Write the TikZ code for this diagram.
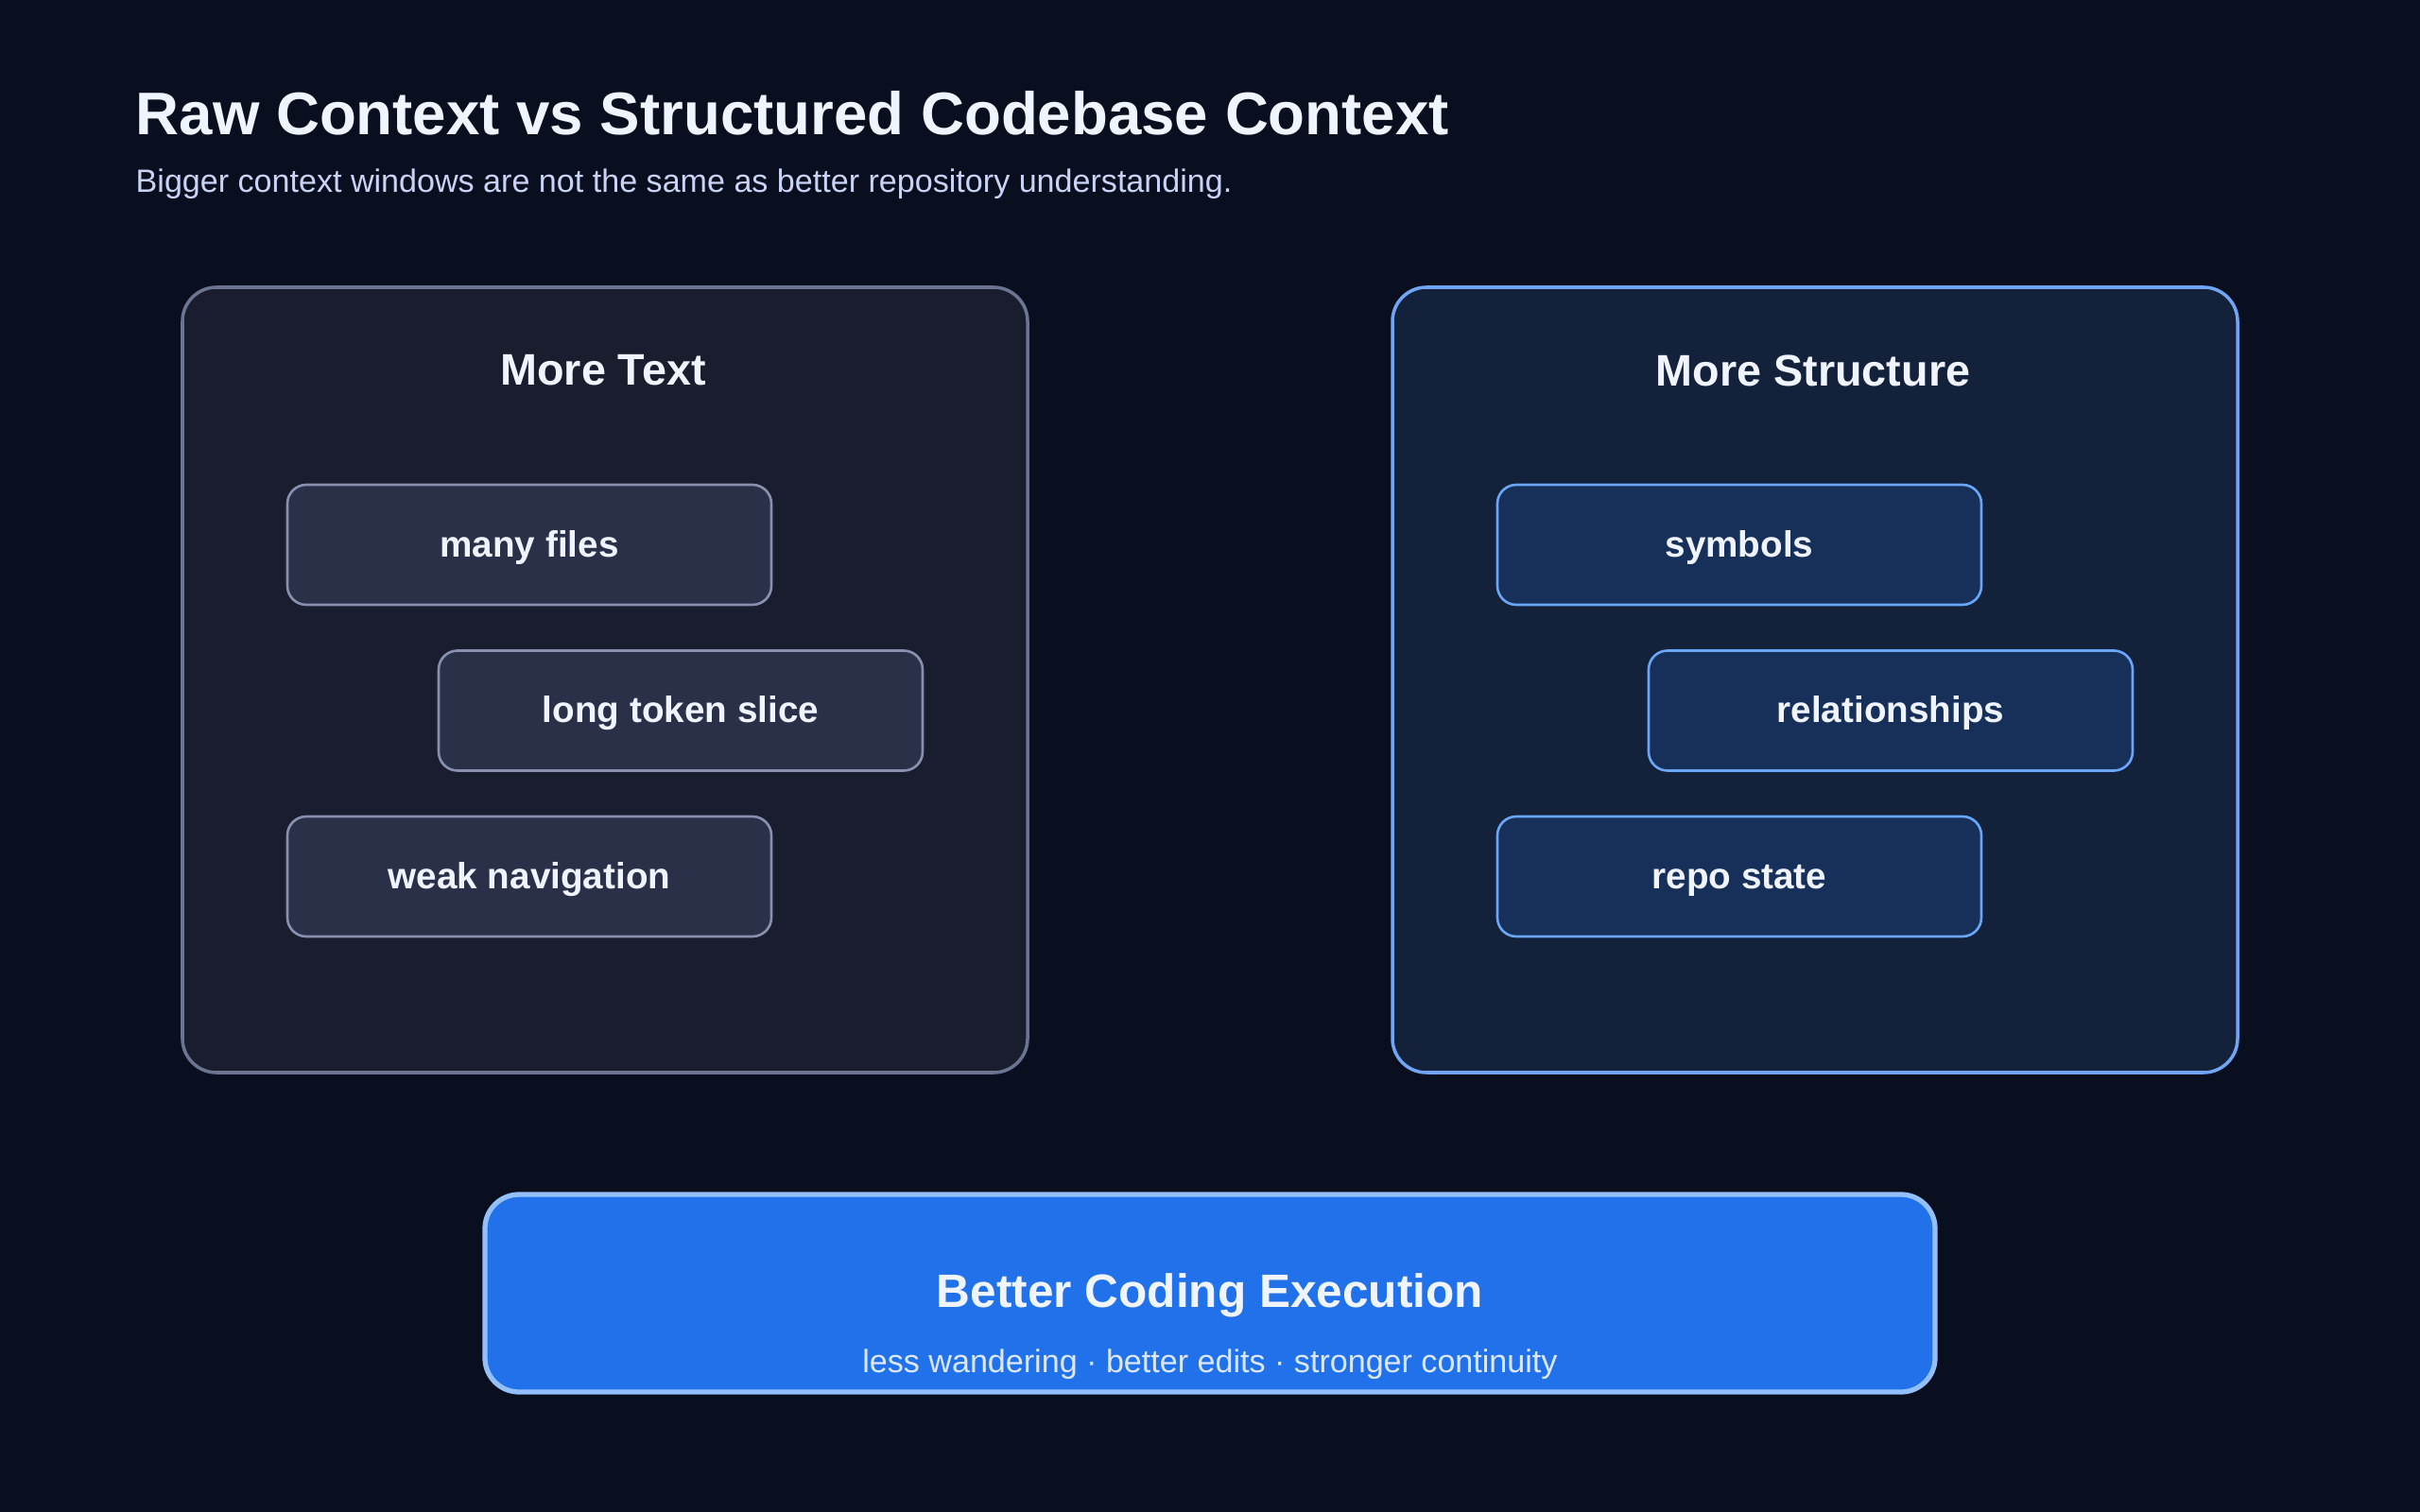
\documentclass[tikz,border=0pt]{standalone}
\usepackage{fontspec}
\setmainfont{Liberation Sans}
\usepackage{tikz}
\usetikzlibrary{positioning, calc}
\definecolor{night}{HTML}{0A0F1F}
\definecolor{ink}{HTML}{F0F4FF}
\definecolor{haze}{HTML}{C9D3F5}
\definecolor{slatefill}{HTML}{1A1D2E}
\definecolor{slateline}{HTML}{6B7491}
\definecolor{chipfill}{HTML}{2B3049}
\definecolor{chipline}{HTML}{8790AE}
\definecolor{deepfill}{HTML}{13223A}
\definecolor{skyline}{HTML}{70A5F5}
\definecolor{bluechip}{HTML}{16305A}
\definecolor{bluechipline}{HTML}{6AA6F8}
\definecolor{action}{HTML}{2172EA}
\definecolor{actionline}{HTML}{93C0FB}
\definecolor{actiontext}{HTML}{DCE7FF}
\tikzset{
  panel/.style={draw,rounded corners=3.6mm,line width=1pt,
    minimum width=8.94cm,minimum height=8.31cm,inner sep=0pt},
  heading/.style={font=\fontsize{13.3}{16}\selectfont\bfseries,text=ink},
  chip/.style={draw,rounded corners=2mm,line width=0.75pt,
    minimum width=5.12cm,minimum height=1.27cm,inner sep=0pt,
    text height=0.72em,text depth=0pt,
    font=\fontsize{11}{13}\selectfont\bfseries,text=ink},
  greychip/.style={chip,fill=chipfill,draw=chipline},
  bluechipbox/.style={chip,fill=bluechip,draw=bluechipline},
}
\begin{document}
\begin{tikzpicture}
  \fill[night] (0,0) rectangle (25.6,-16);
  \useasboundingbox (0,0) rectangle (25.6,-16);
  % title
  \node[anchor=base west,inner sep=0pt,text=ink,
    font=\fontsize{18.1}{21}\selectfont\bfseries] (title) at (1.43,-1.43)
    {Raw Context vs Structured Codebase Context};
  \node[anchor=base west,inner sep=0pt,text=haze,
    font=\fontsize{9.7}{12}\selectfont] (subtitle) at (1.43,-2.04)
    {Bigger context windows are not the same as better repository understanding.};
  % left panel
  \node[panel,fill=slatefill,draw=slateline] (raw) at (6.40,-7.195) {};
  \node[heading] (rawhead) at (6.38,-3.92) {More Text};
  \node[greychip] (files) at (5.60,-5.765) {many files};
  \node[greychip] (slice) at (7.20,-7.52) {long token slice};
  \node[greychip] (nav) at (5.60,-9.275) {weak navigation};
  % right panel
  \node[panel,fill=deepfill,draw=skyline] (struct) at (19.20,-7.195) {};
  \node[heading] (structhead) at (19.18,-3.92) {More Structure};
  \node[bluechipbox] (symbols) at (18.40,-5.765) {symbols};
  \node[bluechipbox] (rels) at (20.00,-7.52) {relationships};
  \node[bluechipbox] (state) at (18.40,-9.275) {repo state};
  % result
  \node[draw=actionline,fill=action,rounded corners=3.6mm,line width=1.5pt,
    minimum width=15.34cm,minimum height=2.09cm,inner sep=0pt] (result) at (12.80,-13.685) {};
  \node[anchor=base,inner sep=0pt,text=ink,
    font=\fontsize{14.1}{17}\selectfont\bfseries] (resulthead) at (12.80,-13.83)
    {Better Coding Execution};
  \node[anchor=base,inner sep=0pt,text=actiontext,
    font=\fontsize{9.7}{12}\selectfont] (resultsub) at (12.80,-14.52)
    {less wandering · better edits · stronger continuity};
\end{tikzpicture}
\end{document}
